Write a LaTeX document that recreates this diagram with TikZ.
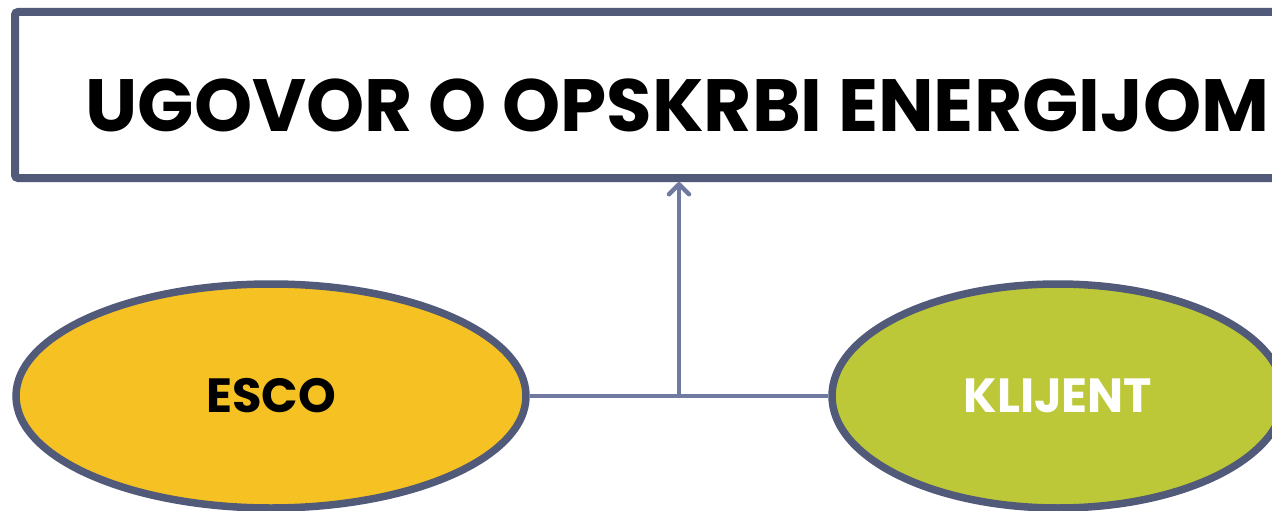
\documentclass[tikz,border=0pt]{standalone}
\usepackage{fontspec}
\setmainfont{Poppins}
\usetikzlibrary{arrows.meta,positioning,calc,shapes.geometric}
\definecolor{rub}{HTML}{525A7A}
\definecolor{veza}{HTML}{7079A0}
\definecolor{zuta}{HTML}{F6C223}
\definecolor{zelena}{HTML}{BCC838}

\begin{document}
\begin{tikzpicture}[x=1pt, y=-1pt,
  >={Straight Barb[length=10pt,width=20pt,line cap=round,line join=round]},
  naslovbox/.style={draw=rub, line width=8pt, fill=white, rounded corners=3pt,
    minimum width=1325pt, minimum height=166pt, inner sep=0pt,
    font=\bfseries\fontsize{74}{74}\selectfont},
  strana/.style={ellipse, draw=rub, line width=7.5pt, minimum height=224pt,
    inner sep=0pt, font=\bfseries\fontsize{48}{48}\selectfont},
  veza/.style={draw=veza, line width=4.5pt}]
  % okvir slike
  \useasboundingbox (0,0) rectangle (1272,511);
  \clip (0,0) rectangle (1272,511);

  % ugovor
  \node[naslovbox] (naslov) at (677.5,95) {\raisebox{-37pt}[0pt][0pt]{UGOVOR O OPSKRBI ENERGIJOM}};

  % strane ugovora
  \node[strana, fill=zuta, minimum width=510pt] (esco) at (271,396) {\raisebox{-2pt}{ESCO}};
  \node[strana, fill=zelena, text=white, minimum width=452pt] (klijent) at (1058,396) {\raisebox{-2pt}{KLIJENT}};

  % veze
  \coordinate (sred) at ($(esco.east)!0.5!(klijent.west)$);
  \draw[veza] (esco.east) -- (klijent.west);
  \draw[veza,->] (sred) -- (sred |- naslov.south);
\end{tikzpicture}
\end{document}
